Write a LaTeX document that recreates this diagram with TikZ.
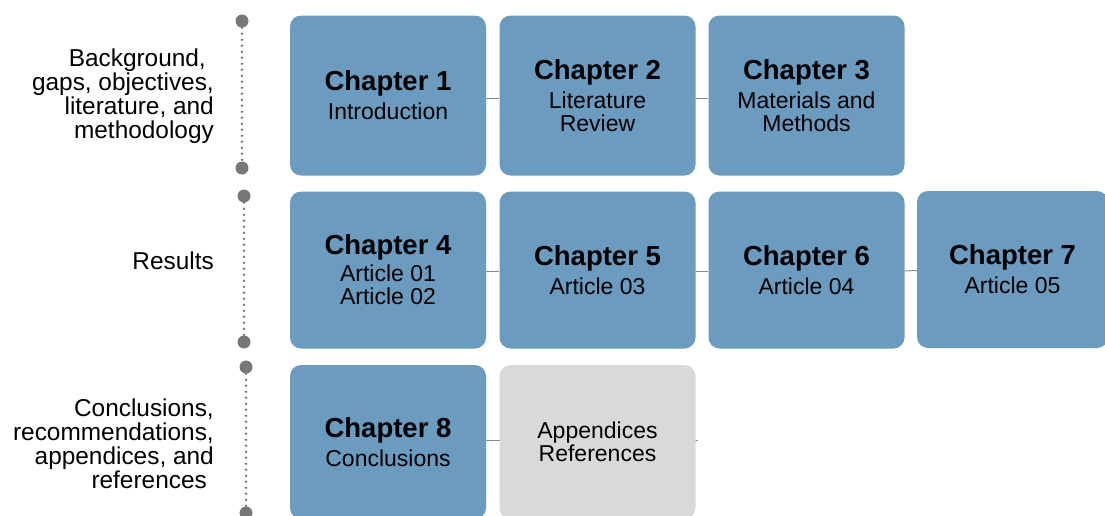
\documentclass[tikz,border=0pt]{standalone}
\usepackage{fontspec}
\setmainfont{Liberation Sans}
\usetikzlibrary{backgrounds}
\definecolor{boxblue}{HTML}{6C9BC0}
\definecolor{boxgrey}{HTML}{D9D9D9}
\definecolor{dotgrey}{HTML}{777777}
\definecolor{linegrey}{HTML}{8A8A8A}
\newcommand\chtitle[1]{{\fontsize{27.5}{27.5}\selectfont\bfseries #1}}
\begin{document}
\begin{tikzpicture}[x=1pt,y=-1pt,
  chap/.style={rectangle, rounded corners=11pt, fill=boxblue, draw=none,
    minimum width=196pt, align=center, inner sep=0pt,
    font=\fontsize{23}{23}\selectfont},
  grey/.style={chap, fill=boxgrey},
  lab/.style={align=right, anchor=east, inner sep=0pt,
    font=\fontsize{24.4}{24}\selectfont},
  dotc/.style={circle, fill=dotgrey, draw=none, minimum size=13pt, inner sep=0pt},
  dotline/.style={draw=dotgrey, line width=2.6pt, line cap=round, dash pattern=on 0pt off 6pt},
  conn/.style={draw=linegrey, line width=1pt}
]
\useasboundingbox (0,0) rectangle (1105,515);
\clip (0,0) rectangle (1105,515);

% row 1
\node[chap, minimum height=160pt] (c1) at (388,95.5) {\chtitle{Chapter 1}\\[6pt]Introduction};
\node[chap, minimum height=160pt] (c2) at (597.5,95.5) {\chtitle{Chapter 2}\\[6pt]Literature\\Review};
\node[chap, minimum height=160pt] (c3) at (806.5,95.5) {\chtitle{Chapter 3}\\[6pt]Materials and\\Methods};
% row 2
\node[chap, minimum height=157pt] (c4) at (388,270) {\chtitle{Chapter 4}\\[4pt]Article 01\\Article 02};
\node[chap, minimum height=157pt] (c5) at (597.5,270) {\chtitle{Chapter 5}\\[6pt]Article 03};
\node[chap, minimum height=157pt] (c6) at (806.5,270) {\chtitle{Chapter 6}\\[6pt]Article 04};
\node[chap, minimum height=157pt, minimum width=191pt] (c7) at (1012.5,269.5) {\chtitle{Chapter 7}\\[6pt]Article 05};
% row 3
\node[chap, minimum height=154pt] (c8) at (388,442) {\chtitle{Chapter 8}\\[6pt]Conclusions};
\node[grey, minimum height=154pt] (app) at (597.5,442) {Appendices\\References};

% connectors (behind boxes)
\begin{scope}[on background layer]
\draw[conn] ([yshift=-2.5pt]c1.east) -- ([yshift=-2.5pt]c2.west);
\draw[conn] ([yshift=-2.5pt]c2.east) -- ([yshift=-2.5pt]c3.west);
\draw[conn] ([yshift=-1pt]c4.east) -- ([yshift=-1pt]c5.west);
\draw[conn] ([yshift=-1pt]c5.east) -- ([yshift=-1pt]c6.west);
\draw[conn] ([yshift=-1pt]c6.east) -- ([yshift=-1pt]c7.west);
\draw[conn] ([yshift=2pt]c8.east) -- ([yshift=2pt,xshift=2pt]app.east);
\end{scope}

% left labels
\node[lab] (l1) at (214,96) {Background,\kern8pt\\gaps, objectives,\\literature, and\\methodology};
\node[lab] (l2) at (214,261) {Results};
\node[lab] (l3) at (214,444) {Conclusions,\\recommendations,\\appendices, and\\references\kern7pt};

% timeline markers
\node[dotc] (d1a) at (242,21) {};
\node[dotc] (d1b) at (242,168) {};
\node[dotc] (d2a) at (244,196) {};
\node[dotc] (d2b) at (244,342) {};
\node[dotc] (d3a) at (246,367) {};
\node[dotc] (d3b) at (246,513) {};
\draw[dotline] (d1a) -- (d1b);
\draw[dotline] (d2a) -- (d2b);
\draw[dotline] (d3a) -- (d3b);
\end{tikzpicture}
\end{document}
